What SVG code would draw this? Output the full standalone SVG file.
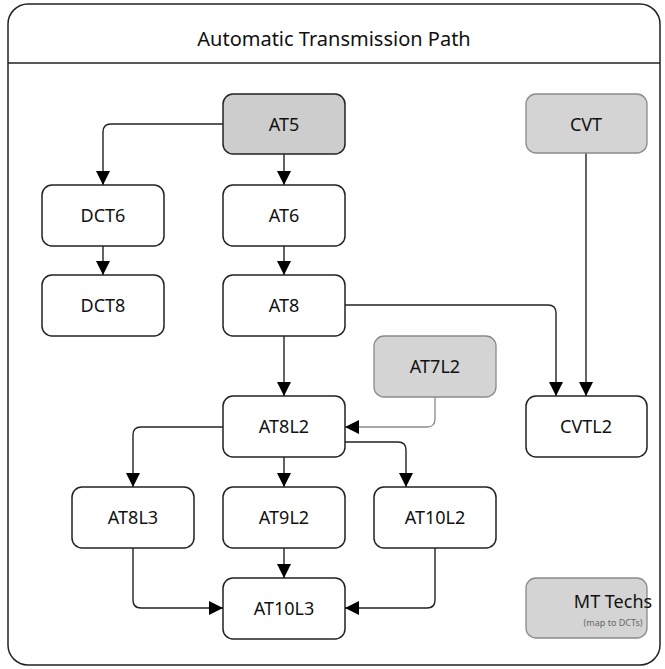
<svg xmlns="http://www.w3.org/2000/svg" width="665" height="669" viewBox="0 0 665 669">
<defs>
<marker id="ah" markerWidth="14" markerHeight="14" refX="14" refY="7" orient="auto" markerUnits="userSpaceOnUse">
<path d="M0,0 L14,7 L0,14 z" fill="#000"/>
</marker>
<style>
.box{fill:#fff;stroke:#222;stroke-width:1.5}
.grey{fill:#d4d4d4;stroke:#8a8a8a;stroke-width:1.3}
.dark{fill:#cdcdcd;stroke:#222;stroke-width:1.5}
.lbl{font-family:"Noto Sans","Open Sans",sans-serif;font-size:18px;fill:#111;text-anchor:middle;dominant-baseline:central}
.c{fill:none;stroke:#222;stroke-width:1.4;marker-end:url(#ah)}
.cg{fill:none;stroke:#8a8a8a;stroke-width:1.3;marker-end:url(#ah)}
</style>
</defs>
<rect x="0" y="0" width="665" height="669" fill="#fff"/>
<g id="frame">
<rect x="8" y="4" width="652" height="661" rx="20" fill="none" stroke="#222" stroke-width="1.5"/>
<line x1="8" y1="63" x2="660" y2="63" stroke="#222" stroke-width="1.5"/>
<text x="334" y="38" class="lbl" style="font-size:20px">Automatic Transmission Path</text>
</g>
<g id="connectors">
<path class="c" d="M223,124 H111 Q103,124 103,132 V185"/>
<path class="c" d="M284,154 V185"/>
<path class="c" d="M103,246 V275"/>
<path class="c" d="M284,246 V275"/>
<path class="c" d="M284,336 V396"/>
<path class="c" d="M345,305 H548 Q556,305 556,313 V396"/>
<path class="c" d="M586,153 V396"/>
<path class="cg" d="M435,397 V419 Q435,427 427,427 H345"/>
<path class="c" d="M223,427 H141 Q133,427 133,435 V487"/>
<path class="c" d="M284,457 V487"/>
<path class="c" d="M345,442 H398 Q406,442 406,450 V487"/>
<path class="c" d="M133,548 V600 Q133,608 141,608 H223"/>
<path class="c" d="M284,548 V578"/>
<path class="c" d="M435,548 V600 Q435,608 427,608 H345"/>
</g>
<g id="AT5"><rect class="dark" x="223" y="94" width="122" height="60" rx="10"/><text class="lbl" x="284" y="124">AT5</text></g>
<g id="CVT"><rect class="grey" x="526" y="94" width="121" height="59" rx="10"/><text class="lbl" x="586" y="124">CVT</text></g>
<g id="DCT6"><rect class="box" x="42" y="185" width="122" height="61" rx="10"/><text class="lbl" x="103" y="215">DCT6</text></g>
<g id="AT6"><rect class="box" x="223" y="185" width="122" height="61" rx="10"/><text class="lbl" x="284" y="215">AT6</text></g>
<g id="DCT8"><rect class="box" x="42" y="275" width="122" height="61" rx="10"/><text class="lbl" x="103" y="305">DCT8</text></g>
<g id="AT8"><rect class="box" x="223" y="275" width="122" height="61" rx="10"/><text class="lbl" x="284" y="305">AT8</text></g>
<g id="AT7L2"><rect class="grey" x="374" y="336" width="122" height="61" rx="10"/><text class="lbl" x="435" y="366">AT7L2</text></g>
<g id="AT8L2"><rect class="box" x="223" y="396" width="122" height="61" rx="10"/><text class="lbl" x="284" y="426">AT8L2</text></g>
<g id="CVTL2"><rect class="box" x="526" y="396" width="121" height="61" rx="10"/><text class="lbl" x="586" y="426">CVTL2</text></g>
<g id="AT8L3"><rect class="box" x="72" y="487" width="122" height="61" rx="10"/><text class="lbl" x="133" y="517">AT8L3</text></g>
<g id="AT9L2"><rect class="box" x="223" y="487" width="122" height="61" rx="10"/><text class="lbl" x="284" y="517">AT9L2</text></g>
<g id="AT10L2"><rect class="box" x="374" y="487" width="122" height="61" rx="10"/><text class="lbl" x="435" y="517">AT10L2</text></g>
<g id="AT10L3"><rect class="box" x="223" y="578" width="122" height="61" rx="10"/><text class="lbl" x="284" y="608">AT10L3</text></g>
<g id="MTTechs"><rect class="grey" x="526" y="578" width="121" height="60" rx="10"/><text class="lbl" x="613" y="601">MT Techs</text><text class="lbl" x="613" y="622" style="font-size:9px;fill:#666">(map to DCTs)</text></g>
</svg>
